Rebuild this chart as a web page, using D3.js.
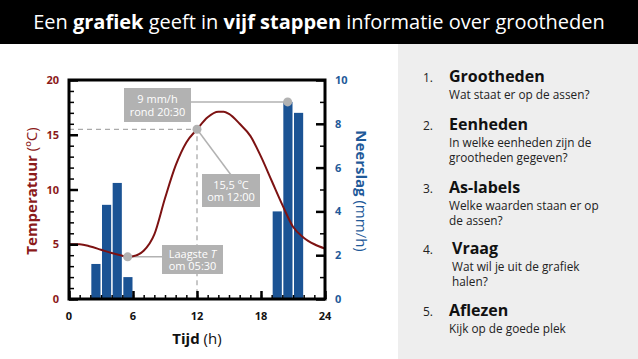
<!DOCTYPE html>
<html>
<head>
	<meta charset="utf-8">
	<title>Grafiek lezen in vijf stappen</title>
	<style>
		body { margin: 0; background: #fff; }
		svg { display: block; font-family: "Open Sans", sans-serif; }
		.bar { fill: #1b5394; }
		.note-box { fill: #b2b2b2; }
		.note-text { fill: #fff; font-size: 11px; }
	</style>
	<script type="text/javascript" src="https://d3js.org/d3.v7.min.js"></script>
</head>
<body>

<svg width="638" height="359"></svg>

<script>

	// temperatuur (graden C) per uur
	var tempHours = [0, 1, 2, 3, 4, 5, 5.5, 6, 7, 8, 9, 10, 11, 12, 13, 14, 14.5, 15, 16, 17, 18, 19, 20, 21, 22, 23, 24];
	var tempValues = [5.0, 5.0, 4.8, 4.5, 4.2, 3.95, 3.85, 3.9, 4.4, 5.9, 9.2, 12.2, 14.3, 15.5, 16.6, 17.1, 17.1, 16.9, 16.0, 14.9, 13.0, 10.8, 8.6, 6.6, 5.6, 5.0, 4.6];

	// neerslag (mm/h), midden van elk uur
	var rainHours = [2.5, 3.5, 4.5, 5.5, 19.5, 20.5, 21.5];
	var rainValues = [1.6, 4.3, 5.3, 1.0, 4.0, 9.0, 8.5];

	// as-labels
	var timeTicks = [0, 6, 12, 18, 24];
	var tempTicks = [0, 5, 10, 15, 20];
	var rainTicks = [0, 2, 4, 6, 8, 10];

	var steps = ["Grootheden", "Eenheden", "As-labels", "Vraag", "Aflezen"];
	var stepTexts = [
		["Wat staat er op de assen?"],
		["In welke eenheden zijn de", "grootheden gegeven?"],
		["Welke waarden staan er op", "de assen?"],
		["Wat wil je uit de grafiek", "halen?"],
		["Kijk op de goede plek"]
	];

	var red = "#8b1a1a",
		blue = "#1f5a99";

	var svg = d3.select("svg");

	// titelbalk
	svg.append("rect")
		.attr("x", 0).attr("y", 0)
		.attr("width", 638).attr("height", 44)
		.attr("fill", "#000");

	var title = svg.append("text")
		.attr("x", 319)
		.attr("y", 29)
		.attr("text-anchor", "middle")
		.attr("fill", "#fff")
		.attr("font-size", "20px");
	title.append("tspan").text("Een ");
	title.append("tspan").attr("font-weight", "bold").text("grafiek");
	title.append("tspan").text(" geeft in ");
	title.append("tspan").attr("font-weight", "bold").text("vijf stappen");
	title.append("tspan").text(" informatie over grootheden");

	// rechter paneel
	svg.append("rect")
		.attr("x", 398).attr("y", 44)
		.attr("width", 240).attr("height", 315)
		.attr("fill", "#eeeeee");

	var stepY = [82, 130, 193, 254, 316];
	var stepX = [449, 449, 449, 452, 449];

	steps.forEach(function(s, i) {
		svg.append("text")
			.attr("x", 423)
			.attr("y", stepY[i])
			.attr("font-size", "12px")
			.attr("fill", "#222")
			.text((i + 1) + ".");
		svg.append("text")
			.attr("x", stepX[i])
			.attr("y", stepY[i])
			.attr("font-size", "16px")
			.attr("font-weight", "bold")
			.attr("fill", "#111")
			.text(s);
		stepTexts[i].forEach(function(t, j) {
			svg.append("text")
				.attr("x", stepX[i])
				.attr("y", stepY[i] + 17 + j * 14.5)
				.attr("font-size", "11.8px")
				.attr("fill", "#222")
				.text(t);
		});
	});

	// schalen
	var plotLeft = 69, plotRight = 325, plotTop = 80, plotBottom = 299;

	var xScale = d3.scaleLinear().domain([0, 24]).range([plotLeft, plotRight]),
		yTemp = d3.scaleLinear().domain([0, 20]).range([plotBottom, plotTop]),
		yRain = d3.scaleLinear().domain([0, 10]).range([plotBottom, plotTop]);

	var g = svg.append("g");

	// stippellijnen naar 15,5 graden om 12:00
	g.append("path")
		.attr("d", "M" + xScale(0) + "," + yTemp(15.5) + "H" + xScale(12) + "V" + yTemp(0))
		.attr("fill", "none")
		.attr("stroke", "#aaa")
		.attr("stroke-width", 1.3)
		.attr("stroke-dasharray", "5,4");

	// neerslag staven
	g.selectAll(".bar")
		.data(rainHours)
		.enter().append("rect")
		.attr("class", "bar")
		.attr("x", function(d) { return xScale(d - 0.5) + 1; })
		.attr("y", function(d, i) { return yRain(rainValues[i]); })
		.attr("width", function(d) { return xScale(d + 0.5) - xScale(d - 0.5) - 1.5; })
		.attr("height", function(d, i) { return plotBottom - yRain(rainValues[i]); });

	// annotatie lijnen
	var notes = g.append("g").attr("stroke", "#b2b2b2").attr("stroke-width", 1.5);
	notes.append("line")
		.attr("x1", 190).attr("y1", yRain(9))
		.attr("x2", xScale(20.5)).attr("y2", yRain(9));
	notes.append("line")
		.attr("x1", xScale(12)).attr("y1", yTemp(15.5))
		.attr("x2", 231).attr("y2", 175);
	notes.append("line")
		.attr("x1", xScale(5.5)).attr("y1", yTemp(3.85))
		.attr("x2", 162).attr("y2", yTemp(3.85));

	// temperatuur lijn
	var line = d3.line()
		.x(function(d) { return xScale(d); })
		.y(function(d, i) { return yTemp(tempValues[i]); })
		.curve(d3.curveMonotoneX);

	g.append("path")
		.datum(tempHours)
		.attr("d", line)
		.attr("fill", "none")
		.attr("stroke", "#7d1212")
		.attr("stroke-width", 2);

	// punten
	var dots = [[xScale(20.5), yRain(9)], [xScale(12), yTemp(15.5)], [xScale(5.5), yTemp(3.85)]];
	g.selectAll(".dot")
		.data(dots)
		.enter().append("circle")
		.attr("cx", function(d) { return d[0]; })
		.attr("cy", function(d) { return d[1]; })
		.attr("r", 4.5)
		.attr("fill", "#b2b2b2");

	// annotatie blokken
	function note(x, y, w, h, lines) {
		g.append("rect")
			.attr("class", "note-box")
			.attr("x", x).attr("y", y)
			.attr("width", w).attr("height", h);
		lines.forEach(function(l, i) {
			var t = g.append("text")
				.attr("class", "note-text")
				.attr("text-anchor", "middle")
				.attr("x", x + w / 2)
				.attr("y", y + h / 2 - 2 + i * 12.5);
			if (typeof l === "string") t.text(l);
			else l(t);
		});
	}

	note(124, 88, 67, 34, ["9 mm/h", "rond 20:30"]);
	note(202, 174, 58, 33, ["15,5 \u00baC", "om 12:00"]);
	note(162, 245, 61, 29, [function(t) {
		t.append("tspan").text("Laagste ");
		t.append("tspan").attr("font-style", "italic").text("T");
	}, "om 05:30"]);

	// assen: ticks naar binnen
	g.append("g")
		.attr("transform", "translate(0," + plotBottom + ")")
		.call(d3.axisTop(xScale).tickValues(d3.range(0, 25, 1)).tickSize(4).tickFormat(""))
		.call(function(a) { a.select(".domain").remove(); a.selectAll("line").attr("stroke-width", 1.5); });
	g.append("g")
		.attr("transform", "translate(0," + plotBottom + ")")
		.call(d3.axisTop(xScale).tickValues(timeTicks).tickSize(8).tickFormat(""))
		.call(function(a) { a.select(".domain").remove(); a.selectAll("line").attr("stroke-width", 2.5); });

	g.append("g")
		.attr("transform", "translate(" + plotLeft + ",0)")
		.call(d3.axisRight(yTemp).tickValues(d3.range(0, 21, 1)).tickSize(5).tickFormat(""))
		.call(function(a) { a.select(".domain").remove(); a.selectAll("line").attr("stroke-width", 1.5); });
	g.append("g")
		.attr("transform", "translate(" + plotLeft + ",0)")
		.call(d3.axisRight(yTemp).tickValues(tempTicks).tickSize(9).tickFormat(""))
		.call(function(a) { a.select(".domain").remove(); a.selectAll("line").attr("stroke-width", 2.5); });

	g.append("g")
		.attr("transform", "translate(" + plotRight + ",0)")
		.call(d3.axisLeft(yRain).tickValues(d3.range(1, 10, 2)).tickSize(5).tickFormat(""))
		.call(function(a) { a.select(".domain").remove(); a.selectAll("line").attr("stroke-width", 1.5); });
	g.append("g")
		.attr("transform", "translate(" + plotRight + ",0)")
		.call(d3.axisLeft(yRain).tickValues(rainTicks).tickSize(9).tickFormat(""))
		.call(function(a) { a.select(".domain").remove(); a.selectAll("line").attr("stroke-width", 2.5); });

	// kader
	g.append("rect")
		.attr("x", plotLeft).attr("y", plotTop)
		.attr("width", plotRight - plotLeft).attr("height", plotBottom - plotTop)
		.attr("fill", "none")
		.attr("stroke", "#000")
		.attr("stroke-width", 3);

	// tick labels
	g.selectAll(".xlab")
		.data(timeTicks)
		.enter().append("text")
		.attr("x", function(d) { return xScale(d); })
		.attr("y", 320)
		.attr("text-anchor", "middle")
		.attr("font-size", "11px")
		.attr("font-weight", "bold")
		.attr("fill", "#111")
		.text(function(d) { return d; });

	g.selectAll(".tlab")
		.data(tempTicks)
		.enter().append("text")
		.attr("x", 59)
		.attr("y", function(d) { return yTemp(d) + 4; })
		.attr("text-anchor", "end")
		.attr("font-size", "11px")
		.attr("font-weight", "bold")
		.attr("fill", red)
		.text(function(d) { return d; });

	g.selectAll(".rlab")
		.data(rainTicks)
		.enter().append("text")
		.attr("x", 335)
		.attr("y", function(d) { return yRain(d) + 4; })
		.attr("font-size", "11px")
		.attr("font-weight", "bold")
		.attr("fill", blue)
		.text(function(d) { return d; });

	// as-titels
	var tl = svg.append("text")
		.attr("transform", "translate(37,191) rotate(-90)")
		.attr("text-anchor", "middle")
		.attr("font-size", "15px")
		.attr("fill", red);
	tl.append("tspan").attr("font-weight", "bold").text("Temperatuur");
	tl.append("tspan").text(" (\u00baC)");

	var tr = svg.append("text")
		.attr("transform", "translate(356,191) rotate(90)")
		.attr("text-anchor", "middle")
		.attr("font-size", "15px")
		.attr("fill", blue);
	tr.append("tspan").attr("font-weight", "bold").text("Neerslag");
	tr.append("tspan").text(" (mm/h)");

	var tb = svg.append("text")
		.attr("x", 197)
		.attr("y", 344)
		.attr("text-anchor", "middle")
		.attr("font-size", "15px")
		.attr("fill", "#111");
	tb.append("tspan").attr("font-weight", "bold").text("Tijd");
	tb.append("tspan").text(" (h)");

</script>
</body>
</html>
